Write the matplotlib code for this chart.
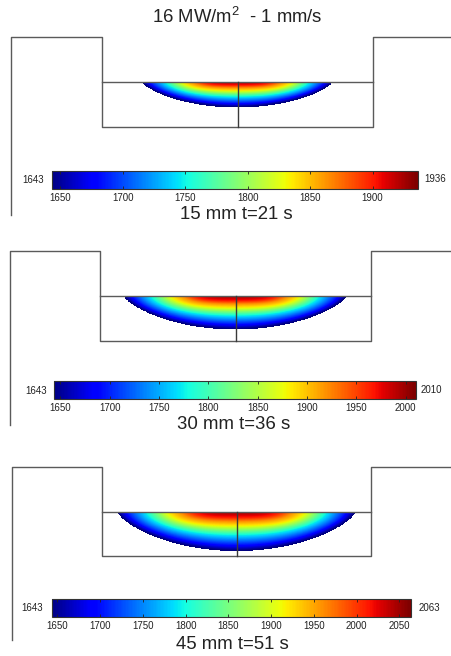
import numpy as np
import matplotlib
matplotlib.use('Agg')
import matplotlib.pyplot as plt
from matplotlib.cm import ScalarMappable
from matplotlib.colors import Normalize
from matplotlib.patches import Polygon

plt.rcParams['font.family'] = ['Liberation Sans', 'DejaVu Sans']
plt.rcParams['mathtext.default'] = 'regular'

W, H = 451, 656

title = '16 MW/m$^{2}$  - 1 mm/s'
captions = ['15 mm t=21 s', '30 mm t=36 s', '45 mm t=51 s']
t_min = [1643, 1643, 1643]
t_max = [1936, 2010, 2063]
ticks = [[1650, 1700, 1750, 1800, 1850, 1900],
         [1650, 1700, 1750, 1800, 1850, 1900, 1950, 2000],
         [1650, 1700, 1750, 1800, 1850, 1900, 1950, 2000, 2050]]

# temperature going down the centre line, surface (0) to pool edge (1)
depth_frac = [0, .17, .27, .38, .5, .63, .86, 1]
temps_15 = [1936, 1900, 1863, 1834, 1790, 1746, 1687, 1643]
temps_30 = [2010, 1966, 1918, 1881, 1826, 1771, 1698, 1643]
temps_45 = [2063, 2010, 1958, 1916, 1853, 1790, 1706, 1643]
temps = [temps_15, temps_30, temps_45]

# outline of the groove: x_left, x_step, x_center, x_right, y_top, y_surface, y_floor, y_end
outlines = [(11, 101.5, 237.5, 373, 37, 81.5, 127, 215),
            (9.5, 100, 235.5, 370.5, 250.5, 295.5, 341, 425),
            (12, 102, 236.5, 370.5, 466.5, 511.5, 556, 640)]
# pool: x_left, x_right, y_bottom
pools = [(142, 332.5, 107.5),
         (124, 346.5, 329.5),
         (117.5, 355.5, 551)]
# colorbar box: x0, x1, y0, y1
bars = [(51.5, 417.5, 170.5, 189),
        (53.5, 415.5, 381, 399),
        (51.5, 410.5, 599, 617)]
caption_pos = [(236, 214.5), (234, 424.5), (232, 644.5)]
low_pos = [(33, 180), (36.5, 391), (32, 608)]
high_pos = [(435, 179), (431.5, 390), (429, 608)]

fig = plt.figure(figsize=(W / 100, H / 100), dpi=100)
ax = fig.add_axes([0, 0, 1, 1])

for i in range(3):
    x0, x1, xc, x2, y_top, y_surf, y_floor, y_end = outlines[i]
    px0, px1, py = pools[i]
    vmin, vmax = t_min[i], t_max[i]

    # pool field
    cx = (px0 + px1) / 2
    a = (px1 - px0) / 2
    b = py - y_surf
    xg, yg = np.meshgrid(np.linspace(px0, px1, 400), np.linspace(y_surf, py, 120))
    u = np.abs(xg - cx) / a
    low = np.maximum(b * (1 - u ** 2) ** .72, 1e-6)
    v = np.clip((yg - y_surf) / low, 0, 1)
    s = np.sqrt(u ** 3.5 + v ** 2 * (1 - u ** 3.5))
    field = np.interp(s, depth_frac, temps[i])
    mesh = ax.pcolormesh(xg, yg, field, cmap='jet', vmin=vmin, vmax=vmax, shading='gouraud')
    edge_x = np.linspace(px0, px1, 300)
    edge_y = y_surf + b * np.clip(1 - ((edge_x - cx) / a) ** 2, 0, 1) ** .72
    clip = Polygon(np.column_stack([edge_x, edge_y]), closed=True, transform=ax.transData)
    mesh.set_clip_path(clip)

    # groove lines
    ax.plot([x0, x0, x1, x1, x2, x2, W], [y_end, y_top, y_top, y_floor, y_floor, y_top, y_top],
            color='#5a5a5a', lw=1)
    ax.plot([x1, x2], [y_surf, y_surf], color='#5a5a5a', lw=1)
    ax.plot([xc, xc], [y_surf, y_floor], color='#3a3a3a', lw=1)

    # colorbar
    bx0, bx1, by0, by1 = bars[i]
    cax = fig.add_axes([bx0 / W, 1 - by1 / H, (bx1 - bx0) / W, (by1 - by0) / H])
    sm = ScalarMappable(norm=Normalize(vmin, vmax), cmap='jet')
    cb = fig.colorbar(sm, cax=cax, orientation='horizontal', ticks=ticks[i])
    cb.solids.set_edgecolor('face')
    cb.ax.tick_params(axis='x', direction='in', length=2, width=.6, top=True, bottom=True,
                      labelsize=7, pad=3, colors='#222222')
    cb.outline.set_linewidth(.8)
    cb.outline.set_edgecolor('#333333')

    ax.text(low_pos[i][0], low_pos[i][1], str(vmin), fontsize=7, color='#222222', ha='center', va='center')
    ax.text(high_pos[i][0], high_pos[i][1], str(vmax), fontsize=7, color='#222222', ha='center', va='center')
    ax.text(caption_pos[i][0], caption_pos[i][1], captions[i], fontsize=13.4, color='#222222',
            ha='center', va='center')

ax.text(237, 17, title, fontsize=13.3, color='#222222', ha='center', va='center')

ax.set_xlim(0, W)
ax.set_ylim(H, 0)
ax.axis('off')

fig.savefig('out.png', dpi=100)
